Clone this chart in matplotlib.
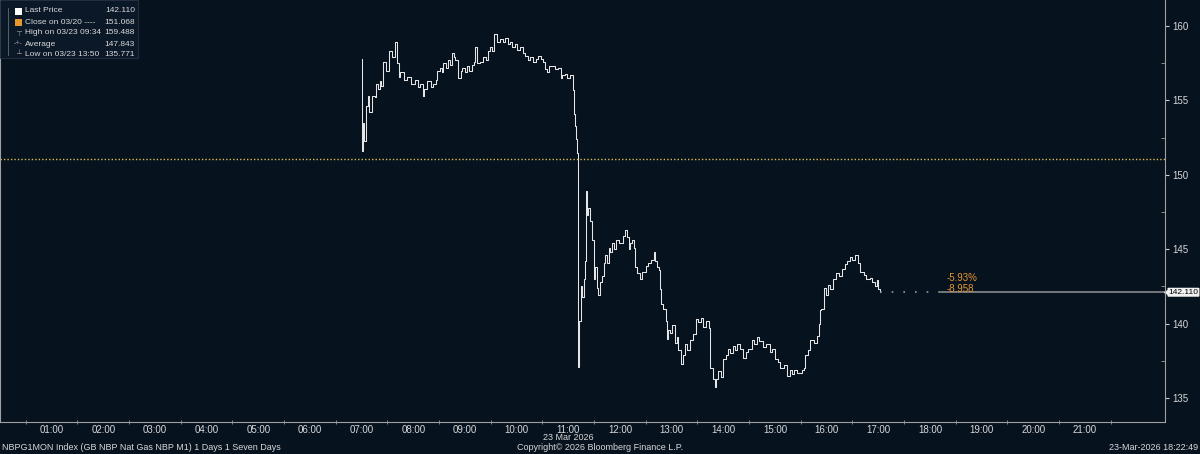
import matplotlib
matplotlib.use("Agg")
import matplotlib.pyplot as plt
from matplotlib.patches import Rectangle
import matplotlib.transforms as mtransforms

# intraday ticks (London time, 23 Mar 2026)
times = [
    "07:00", "07:01", "07:02", "07:03", "07:05", "07:07", "07:09", "07:12", "07:15", "07:17",
    "07:19", "07:21", "07:23", "07:25", "07:28", "07:32", "07:35", "07:39", "07:41", "07:43",
    "07:45", "07:49", "07:53", "07:57", "08:02", "08:05", "08:08", "08:11", "08:13", "08:16",
    "08:20", "08:23", "08:26", "08:28", "08:31", "08:33", "08:35", "08:38", "08:40", "08:43",
    "08:45", "08:47", "08:49", "08:52", "08:55", "08:57", "09:00", "09:02", "09:05", "09:08",
    "09:10", "09:12", "09:14", "09:18", "09:21", "09:24", "09:27", "09:29", "09:31", "09:34",
    "09:37", "09:41", "09:44", "09:47", "09:50", "09:52", "09:55", "09:58", "10:01", "10:04",
    "10:07", "10:10", "10:13", "10:16", "10:19", "10:22", "10:25", "10:28", "10:31", "10:33",
    "10:35", "10:38", "10:42", "10:45", "10:48", "10:51", "10:53", "10:56", "10:59", "11:02",
    "11:05", "11:06", "11:07", "11:08", "11:09", "11:10", "11:11", "11:13", "11:15", "11:16",
    "11:18", "11:20", "11:21", "11:22", "11:23", "11:25", "11:27", "11:28", "11:30", "11:31",
    "11:33", "11:35", "11:37", "11:39", "11:41", "11:43", "11:45", "11:47", "11:49", "11:51",
    "11:53", "11:56", "11:59", "12:03", "12:06", "12:08", "12:10", "12:12", "12:14", "12:16",
    "12:18", "12:20", "12:23", "12:26", "12:30", "12:33", "12:36", "12:39", "12:41", "12:43",
    "12:45", "12:47", "12:48", "12:50", "12:53", "12:55", "12:56", "12:58", "13:01", "13:04",
    "13:06", "13:08", "13:11", "13:13", "13:15", "13:18", "13:21", "13:25", "13:28", "13:31",
    "13:34", "13:37", "13:40", "13:43", "13:45", "13:48", "13:50", "13:52", "13:54", "13:57",
    "14:00", "14:03", "14:05", "14:08", "14:11", "14:14", "14:16", "14:19", "14:23", "14:26",
    "14:29", "14:33", "14:36", "14:39", "14:42", "14:46", "14:50", "14:54", "14:57", "15:00",
    "15:03", "15:06", "15:10", "15:14", "15:17", "15:20", "15:22", "15:26", "15:31", "15:34",
    "15:35", "15:38", "15:41", "15:45", "15:49", "15:51", "15:52", "15:54", "15:57", "15:59",
    "16:02", "16:04", "16:07", "16:11", "16:14", "16:18", "16:21", "16:24", "16:27", "16:30",
    "16:33", "16:36", "16:39", "16:43", "16:46", "16:50", "16:53", "16:56", "16:58", "17:00",
    "17:02",
]
prices = [
    157.8, 151.6, 153.5, 152.3, 154.6, 155.3, 154.2, 155.3, 155.2, 156.1,
    155.8, 156.3, 156.0, 157.6, 157.0, 158.3, 157.9, 158.9, 157.5, 156.6,
    156.9, 156.4, 156.6, 156.1, 156.4, 155.9, 156.1, 155.3, 155.8, 156.3,
    155.9, 156.1, 156.4, 157.0, 157.2, 156.9, 157.5, 157.2, 157.7, 157.4,
    158.2, 157.9, 157.7, 156.5, 157.0, 157.2, 156.9, 157.3, 157.0, 157.4,
    157.6, 158.6, 157.5, 157.6, 157.9, 157.7, 158.3, 158.6, 158.3, 159.488,
    158.9, 159.1, 158.9, 159.2, 158.8, 158.9, 158.6, 158.8, 158.4, 158.6,
    158.2, 158.0, 157.7, 157.9, 157.6, 157.8, 158.0, 157.8, 157.6, 157.1,
    156.9, 157.3, 157.3, 157.1, 157.2, 156.5, 156.7, 156.8, 156.5, 156.7,
    156.3, 155.7, 154.1, 153.3, 152.4, 151.5, 137.1, 140.2, 142.5, 141.8,
    143.0, 144.2, 148.9, 147.3, 147.8, 146.9, 146.4, 145.6, 143.0, 143.8,
    142.4, 141.9, 142.8, 143.2, 144.1, 144.6, 144.1, 145.1, 144.8, 145.4,
    145.0, 145.6, 145.4, 145.9, 146.3, 145.8, 145.0, 145.4, 145.6, 145.1,
    143.8, 143.4, 143.0, 143.5, 143.9, 144.1, 144.3, 144.8, 144.2, 143.8,
    143.6, 142.3, 141.3, 141.0, 140.2, 139.0, 139.6, 139.4, 139.9, 138.7,
    139.1, 138.2, 137.3, 137.9, 138.6, 138.2, 138.9, 139.3, 140.3, 140.1,
    140.4, 139.8, 140.2, 139.7, 137.0, 136.3, 135.771, 136.3, 136.8, 136.4,
    137.6, 137.9, 138.3, 138.0, 138.5, 138.2, 138.6, 138.3, 137.7, 138.1,
    138.3, 138.9, 138.6, 139.1, 138.8, 138.4, 138.6, 138.1, 138.3, 137.6,
    137.4, 137.0, 137.2, 136.5, 136.9, 136.6, 136.9, 136.7, 136.9, 137.0,
    137.9, 138.2, 138.9, 138.7, 139.2, 140.0, 140.9, 141.0, 142.4, 141.9,
    142.6, 142.3, 143.0, 143.4, 143.2, 143.7, 144.0, 144.2, 144.5, 144.3,
    144.6, 144.1, 143.5, 143.3, 143.0, 143.1, 142.8, 142.5, 142.9, 142.3,
    142.110,
]
assert len(times) == len(prices)

prev_close = 151.068
last_price = 142.110
hour_labels = ["%02d:00" % h for h in range(1, 22)]
legend_rows = [
    ("Last Price", "142.110"),
    ("Close on 03/20 ----", "151.068"),
    ("High on 03/23 09:34", "159.488"),
    ("Average", "147.843"),
    ("Low on 03/23 13:50", "135.771"),
]

bg = "#07121f"
fg = "#d8d8d8"
orange = "#e8962e"
fam = ["Liberation Sans", "DejaVu Sans"]

def to_hours(s):
    h, m = s.split(":")
    return int(h) + int(m) / 60.0

x = [to_hours(t) for t in times]

fig = plt.figure(figsize=(12, 4.54), dpi=100, facecolor=bg)
ax = fig.add_axes([0.0, 0.0705, 0.9708, 0.9295], facecolor=bg)

ax.plot(x, prices, color="#e6e6e6", lw=0.75, drawstyle="steps-post")
ax.axhline(prev_close, color="#dcbc50", lw=1.0, ls=(0, (1, 1.5)))

# extension of the last price
end_x = x[-1]
ext_x = to_hours("18:13")
ax.plot([end_x, ext_x], [last_price, last_price], color="#9a9a9a", lw=1.2, ls=(0, (1, 6)))
ax.plot([ext_x, 22.6], [last_price, last_price], color="#8a8a8a", lw=1.2)
ax.text(ext_x + 0.1, 143.1, "-5.93%", color=orange, fontsize=7, family=fam, va="center")
ax.text(ext_x + 0.1, 142.3, "-8.958", color=orange, fontsize=7, family=fam, va="center")

ax.set_xlim(0, 22.55)
ax.set_ylim(133.39, 161.75)

ax.set_xticks(range(1, 22))
ax.set_xticklabels(hour_labels)
ax.set_xticks([h + 0.5 for h in range(0, 22)], minor=True)
ax.tick_params(axis="x", which="major", length=0, colors=fg, labelsize=7, pad=2)
ax.tick_params(axis="x", which="minor", length=3, direction="inout", color="#9a9a9a")
for lab in ax.get_xticklabels():
    lab.set_family(fam)

ax.yaxis.tick_right()
ax.set_yticks([135, 140, 145, 150, 155, 160])
ax.set_yticks([137.5, 142.5, 147.5, 152.5, 157.5], minor=True)
ax.tick_params(axis="y", which="major", length=3, direction="out", color="#cccccc",
               colors=fg, labelsize=7, pad=2)
ax.tick_params(axis="y", which="minor", length=3, direction="in", color="#9a9a9a")
for lab in ax.get_yticklabels():
    lab.set_family(fam)

ax.spines["top"].set_visible(False)
for side in ["left", "right", "bottom"]:
    ax.spines[side].set_color("#a0a0a0")
    ax.spines[side].set_linewidth(0.8)

# last price tag on the axis
tr = mtransforms.blended_transform_factory(ax.transAxes, ax.transData)
ax.plot([1.002], [last_price], marker="<", ms=4, color="#f2f2f2", transform=tr, clip_on=False)
ax.text(1.003, last_price, "142.110", transform=tr, fontsize=6.0, family=fam, color="#000000",
        va="center", ha="left", clip_on=False,
        bbox=dict(boxstyle="round,pad=0.12", fc="#f2f2f2", ec="none"))

# legend block
ax.add_patch(Rectangle((0, 0.862), 0.1185, 0.138, transform=ax.transAxes,
                       fc="#0b1828", ec="#2a3444", lw=0.6, zorder=5))
row_y = [11, 22, 33, 44, 55]
for (name, val), py in zip(legend_rows, row_y):
    fy = 1 - py / 454.0
    fig.text(25 / 1200.0, fy, name, color=fg, fontsize=6.0, family=fam, va="center", zorder=6)
    fig.text(135 / 1200.0, fy, val, color=fg, fontsize=6.0, family=fam, va="center", ha="right", zorder=6)
fig.patches.append(Rectangle((15 / 1200.0, 1 - 15 / 454.0), 7 / 1200.0, 7 / 454.0,
                             transform=fig.transFigure, fc="#ffffff", ec="none", zorder=6))
fig.patches.append(Rectangle((15 / 1200.0, 1 - 26 / 454.0), 7 / 1200.0, 7 / 454.0,
                             transform=fig.transFigure, fc=orange, ec="none", zorder=6))
fig.text(18.5 / 1200.0, 1 - 33 / 454.0, "┬", color="#9a9a9a", fontsize=5, family=fam,
         ha="center", va="center")
fig.text(18.5 / 1200.0, 1 - 44 / 454.0, "-+-", color="#9a9a9a", fontsize=5, family=fam,
         ha="center", va="center")
fig.text(18.5 / 1200.0, 1 - 55 / 454.0, "┴", color="#9a9a9a", fontsize=5, family=fam,
         ha="center", va="center")
fig.lines.append(plt.Line2D([8 / 1200.0, 8 / 1200.0], [1 - 8 / 454.0, 1 - 55 / 454.0],
                            transform=fig.transFigure, color="#6a6a6a", lw=0.6))

# footer
fig.text(568 / 1200.0, 1 - 437 / 454.0, "23 Mar 2026", color=fg, fontsize=6.5, family=fam,
         ha="center", va="center")
fig.text(2 / 1200.0, 1 - 448 / 454.0, "NBPG1MON Index (GB NBP Nat Gas NBP M1) 1 Days 1 Seven Days",
         color=fg, fontsize=6.5, family=fam, va="center")
fig.text(600 / 1200.0, 1 - 448 / 454.0, "Copyright\u00a9 2026 Bloomberg Finance L.P.",
         color=fg, fontsize=6.5, family=fam, va="center", ha="center")
fig.text(1198 / 1200.0, 1 - 448 / 454.0, "23-Mar-2026 18:22:49",
         color=fg, fontsize=6.5, family=fam, va="center", ha="right")

fig.savefig("out.png", dpi=100, facecolor=bg)
